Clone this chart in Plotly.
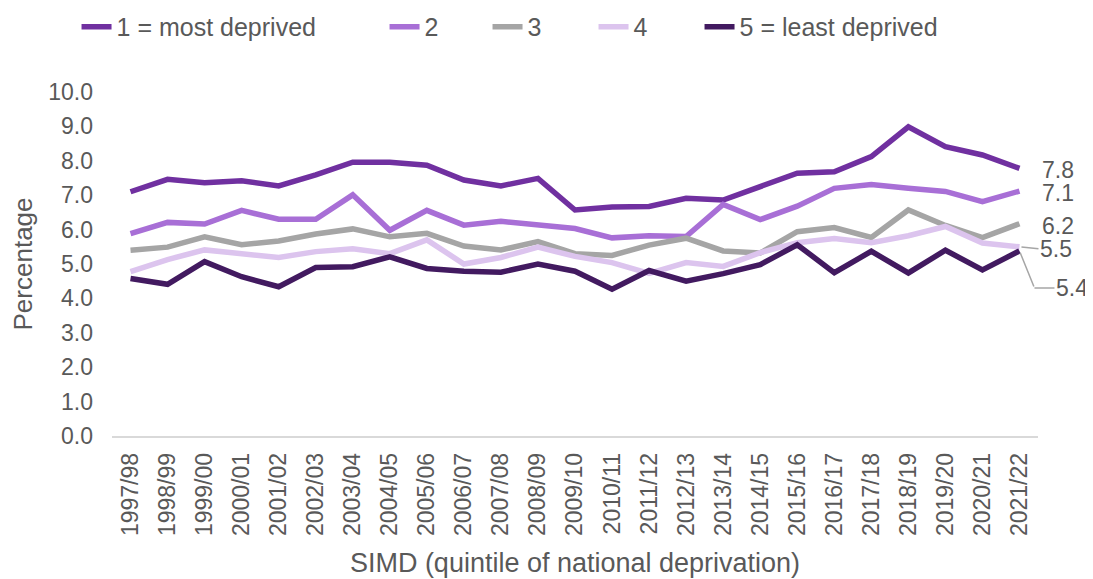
import plotly.graph_objects as go

years = ["1997/98", "1998/99", "1999/00", "2000/01", "2001/02", "2002/03", "2003/04",
         "2004/05", "2005/06", "2006/07", "2007/08", "2008/09", "2009/10", "2010/11",
         "2011/12", "2012/13", "2013/14", "2014/15", "2015/16", "2016/17", "2017/18",
         "2018/19", "2019/20", "2020/21", "2021/22"]

q1_most = [7.10, 7.46, 7.36, 7.42, 7.27, 7.59, 7.96, 7.96, 7.87, 7.44, 7.27, 7.49, 6.57,
           6.66, 6.67, 6.91, 6.86, 7.25, 7.64, 7.68, 8.12, 8.99, 8.41, 8.17, 7.78]
q2 = [5.88, 6.21, 6.16, 6.56, 6.30, 6.30, 7.01, 5.98, 6.56, 6.13, 6.24, 6.13, 6.03,
      5.76, 5.82, 5.80, 6.73, 6.29, 6.68, 7.20, 7.31, 7.20, 7.11, 6.81, 7.12]
q3 = [5.40, 5.49, 5.79, 5.56, 5.67, 5.87, 6.02, 5.79, 5.89, 5.52, 5.41, 5.65, 5.30,
      5.25, 5.55, 5.75, 5.38, 5.32, 5.94, 6.06, 5.77, 6.57, 6.12, 5.77, 6.17]
q4 = [4.78, 5.13, 5.41, 5.31, 5.19, 5.36, 5.44, 5.30, 5.70, 5.00, 5.19, 5.49, 5.22,
      5.04, 4.73, 5.04, 4.93, 5.33, 5.62, 5.74, 5.62, 5.82, 6.09, 5.61, 5.50]
q5_least = [4.58, 4.41, 5.07, 4.63, 4.34, 4.90, 4.92, 5.21, 4.87, 4.79, 4.76, 5.00, 4.79,
            4.27, 4.81, 4.50, 4.72, 4.98, 5.56, 4.75, 5.37, 4.74, 5.40, 4.83, 5.38]

series_names = ["1 = most deprived", "2", "3", "4", "5 = least deprived"]
series_values = [q1_most, q2, q3, q4, q5_least]
series_colors = ["#7030A0", "#A86FD6", "#A5A5A5", "#DCC4EE", "#421A60"]
legend_widths = [263, 58, 61, 61, None]

FONT = "Liberation Sans, Arial, sans-serif"
TXT = "#595959"
LEADER = "#A6A6A6"

fig = go.Figure()
for name, vals, col, lw in zip(series_names, series_values, series_colors, legend_widths):
    tr = go.Scatter(x=years, y=vals, mode="lines", name=name,
                    line=dict(color=col, width=5.5))
    if lw:
        tr.legendwidth = lw
    fig.add_trace(tr)

last = years[-1]
# end labels
for vals in [q1_most, q2, q3]:
    fig.add_annotation(x=last, y=vals[-1], text=f"{vals[-1]:.1f}", showarrow=False,
                       xanchor="left", yanchor="middle", xshift=21, yshift=-2,
                       font=dict(size=23, color=TXT, family=FONT))
# 5.5 label with short leader
fig.add_annotation(x=last, y=q4[-1], text=f"{q4[-1]:.1f}", showarrow=True,
                   arrowhead=0, arrowwidth=1.5, arrowcolor=LEADER, standoff=2,
                   ax=19, ay=2, xanchor="left", yanchor="middle",
                   font=dict(size=23, color=TXT, family=FONT))
# 5.4 label with elbow leader
fig.add_annotation(x=last, y=q5_least[-1], text="", showarrow=True,
                   arrowhead=0, arrowwidth=1.5, arrowcolor=LEADER, standoff=2,
                   ax=15, ay=37)
fig.add_annotation(x=last, y=q5_least[-1], text=f"{q5_least[-1]:.1f}", showarrow=True,
                   arrowhead=0, arrowwidth=1.5, arrowcolor=LEADER,
                   xshift=15, yshift=-37, ax=20, ay=0,
                   xanchor="left", yanchor="middle",
                   font=dict(size=23, color=TXT, family=FONT))

fig.update_layout(
    width=1085, height=571,
    margin=dict(l=103.5, r=54.5, t=84, b=143, autoexpand=False),
    plot_bgcolor="white", paper_bgcolor="white",
    font=dict(family=FONT, color=TXT, size=23),
    showlegend=True,
    legend=dict(orientation="h", x=-0.0383, xanchor="left", y=1.189, yanchor="middle",
                font=dict(size=25, color=TXT, family=FONT), itemwidth=30,
                bgcolor="rgba(0,0,0,0)"),
    xaxis=dict(type="category", range=[-0.5, len(years) - 0.5], showgrid=False,
               showline=True, linecolor="#D9D9D9", linewidth=1.5, ticks="",
               tickangle=-90, ticklabelstandoff=6,
               tickfont=dict(size=23, color=TXT, family=FONT),
               title=dict(text="SIMD (quintile of national deprivation)",
                          font=dict(size=27, color=TXT, family=FONT), standoff=18),
               automargin=False),
    yaxis=dict(range=[0, 10], dtick=1, tickformat=".1f", showgrid=False,
               zeroline=False, showline=False, ticks="", ticklabelstandoff=18,
               tickfont=dict(size=23, color=TXT, family=FONT),
               title=dict(text="Percentage", font=dict(size=26, color=TXT, family=FONT),
                          standoff=8),
               automargin=False),
)

fig.write_html("out.html")
